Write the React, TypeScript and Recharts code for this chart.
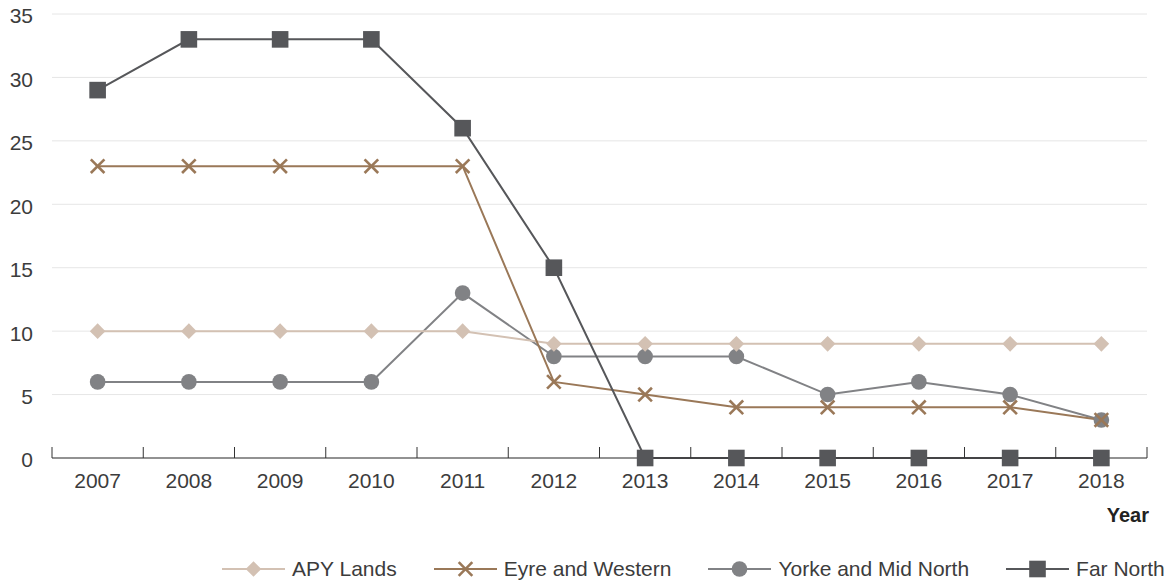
import React from 'react';
import { LineChart, Line, XAxis, YAxis, CartesianGrid, Legend } from 'recharts';

const years = ['2007', '2008', '2009', '2010', '2011', '2012', '2013', '2014', '2015', '2016', '2017', '2018'];
const apyLands = [10, 10, 10, 10, 10, 9, 9, 9, 9, 9, 9, 9];
const eyreWestern = [23, 23, 23, 23, 23, 6, 5, 4, 4, 4, 4, 3];
const yorkeMidNorth = [6, 6, 6, 6, 13, 8, 8, 8, 5, 6, 5, 3];
const farNorth = [29, 33, 33, 33, 26, 15, 0, 0, 0, 0, 0, 0];
const yTicks = [0, 5, 10, 15, 20, 25, 30, 35];

const data = years.map((year, i) => ({
  year,
  apy: apyLands[i],
  eyre: eyreWestern[i],
  yorke: yorkeMidNorth[i],
  far: farNorth[i],
}));

type Shape = 'diamond' | 'cross' | 'circle' | 'square';
const legendSeries: { key: string; name: string; color: string; shape: Shape }[] = [
  { key: 'apy', name: 'APY Lands', color: '#d3c1b3', shape: 'diamond' },
  { key: 'eyre', name: 'Eyre and Western', color: '#9a7858', shape: 'cross' },
  { key: 'yorke', name: 'Yorke and Mid North', color: '#818285', shape: 'circle' },
  { key: 'far', name: 'Far North', color: '#56575a', shape: 'square' },
];
const drawOrder = ['yorke', 'apy', 'eyre', 'far'];

const W = 1174;
const H = 583;
const M = { top: 14, right: 27, left: 0, bottom: 33 };
const Y_W = 52;
const X_H = 66;
const LEGEND_H = 26;
const FONT = '"Liberation Sans", Arial, sans-serif';
const TEXT = '#3c3c3c';
const FS = 21;
const BAND = (W - M.left - M.right - Y_W) / years.length;

function Marker({ cx, cy, shape, color }: { cx: number; cy: number; shape: Shape; color: string }) {
  if (cx == null || cy == null || isNaN(cx) || isNaN(cy)) return null;
  if (shape === 'diamond') {
    const r = 7.8;
    return <polygon points={`${cx},${cy - r} ${cx + r},${cy} ${cx},${cy + r} ${cx - r},${cy}`} fill={color} />;
  }
  if (shape === 'cross') {
    const r = 6.8;
    return (
      <g stroke={color} strokeWidth={2.6}>
        <line x1={cx - r} y1={cy - r} x2={cx + r} y2={cy + r} />
        <line x1={cx - r} y1={cy + r} x2={cx + r} y2={cy - r} />
      </g>
    );
  }
  if (shape === 'circle') {
    return <circle cx={cx} cy={cy} r={7.8} fill={color} />;
  }
  const s = 8.3;
  return <rect x={cx - s} y={cy - s} width={2 * s} height={2 * s} fill={color} />;
}

function XTick(props: any) {
  const { x, y, payload, index } = props;
  const last = index === years.length - 1;
  return (
    <g>
      <line x1={x - BAND / 2} y1={y} x2={x - BAND / 2} y2={y - 11} stroke="#333" strokeWidth={1} />
      {last && <line x1={x + BAND / 2} y1={y} x2={x + BAND / 2} y2={y - 11} stroke="#333" strokeWidth={1} />}
      <text x={x} y={y + 30} textAnchor="middle" fill={TEXT} fontSize={FS} fontFamily={FONT}>
        {payload.value}
      </text>
    </g>
  );
}

function YTick(props: any) {
  const { x, y, payload } = props;
  return (
    <text x={x} y={y + 2} dy="0.355em" textAnchor="end" fill={TEXT} fontSize={FS} fontFamily={FONT}>
      {payload.value}
    </text>
  );
}

function LegendContent() {
  return (
    <div style={{ display: 'flex', alignItems: 'center', height: LEGEND_H, fontFamily: FONT, fontSize: FS, color: TEXT, whiteSpace: 'nowrap' }}>
      {legendSeries.map((s) => (
        <div key={s.key} style={{ display: 'flex', alignItems: 'center', marginRight: 37 }}>
          <svg width={63} height={LEGEND_H} style={{ display: 'block' }}>
            <line x1={0} y1={LEGEND_H / 2} x2={63} y2={LEGEND_H / 2} stroke={s.color} strokeWidth={2} />
            <Marker cx={31.5} cy={LEGEND_H / 2} shape={s.shape} color={s.color} />
          </svg>
          <span style={{ marginLeft: 7, lineHeight: `${LEGEND_H}px` }}>{s.name}</span>
        </div>
      ))}
    </div>
  );
}

export default function App() {
  return (
    <div style={{ position: 'absolute', left: 0, top: 0, width: W, height: H, background: '#fff' }}>
      <LineChart width={W} height={H} data={data} margin={M}>
        <CartesianGrid vertical={false} stroke="#e6e6e6" strokeWidth={1} />
        <XAxis
          dataKey="year"
          height={X_H}
          padding={{ left: BAND / 2, right: BAND / 2 }}
          axisLine={{ stroke: '#333', strokeWidth: 1.2 }}
          tickLine={false}
          tickSize={0}
          tickMargin={0}
          interval={0}
          tick={<XTick />}
          label={{ value: 'Year', position: 'insideBottomRight', offset: 2, dx: 4, fill: '#222', fontSize: 20, fontWeight: 700, fontFamily: FONT }}
        />
        <YAxis
          width={Y_W}
          domain={[0, 35]}
          ticks={yTicks}
          axisLine={false}
          tickLine={false}
          tickSize={0}
          tickMargin={19}
          tick={<YTick />}
        />
        <Legend
          verticalAlign="bottom"
          content={<LegendContent />}
          wrapperStyle={{ top: 556, bottom: 'auto', left: 222, width: 960, height: LEGEND_H }}
        />
        {drawOrder.map((k) => {
          const s = legendSeries.find((x) => x.key === k)!;
          return (
            <Line
              key={s.key}
              dataKey={s.key}
              name={s.name}
              type="linear"
              stroke={s.color}
              strokeWidth={2}
              isAnimationActive={false}
              activeDot={false}
              dot={(p: any) => (
                <g key={`${s.key}-${p.index}`}>
                  <Marker cx={p.cx} cy={p.cy} shape={s.shape} color={s.color} />
                </g>
              )}
            />
          );
        })}
      </LineChart>
    </div>
  );
}
